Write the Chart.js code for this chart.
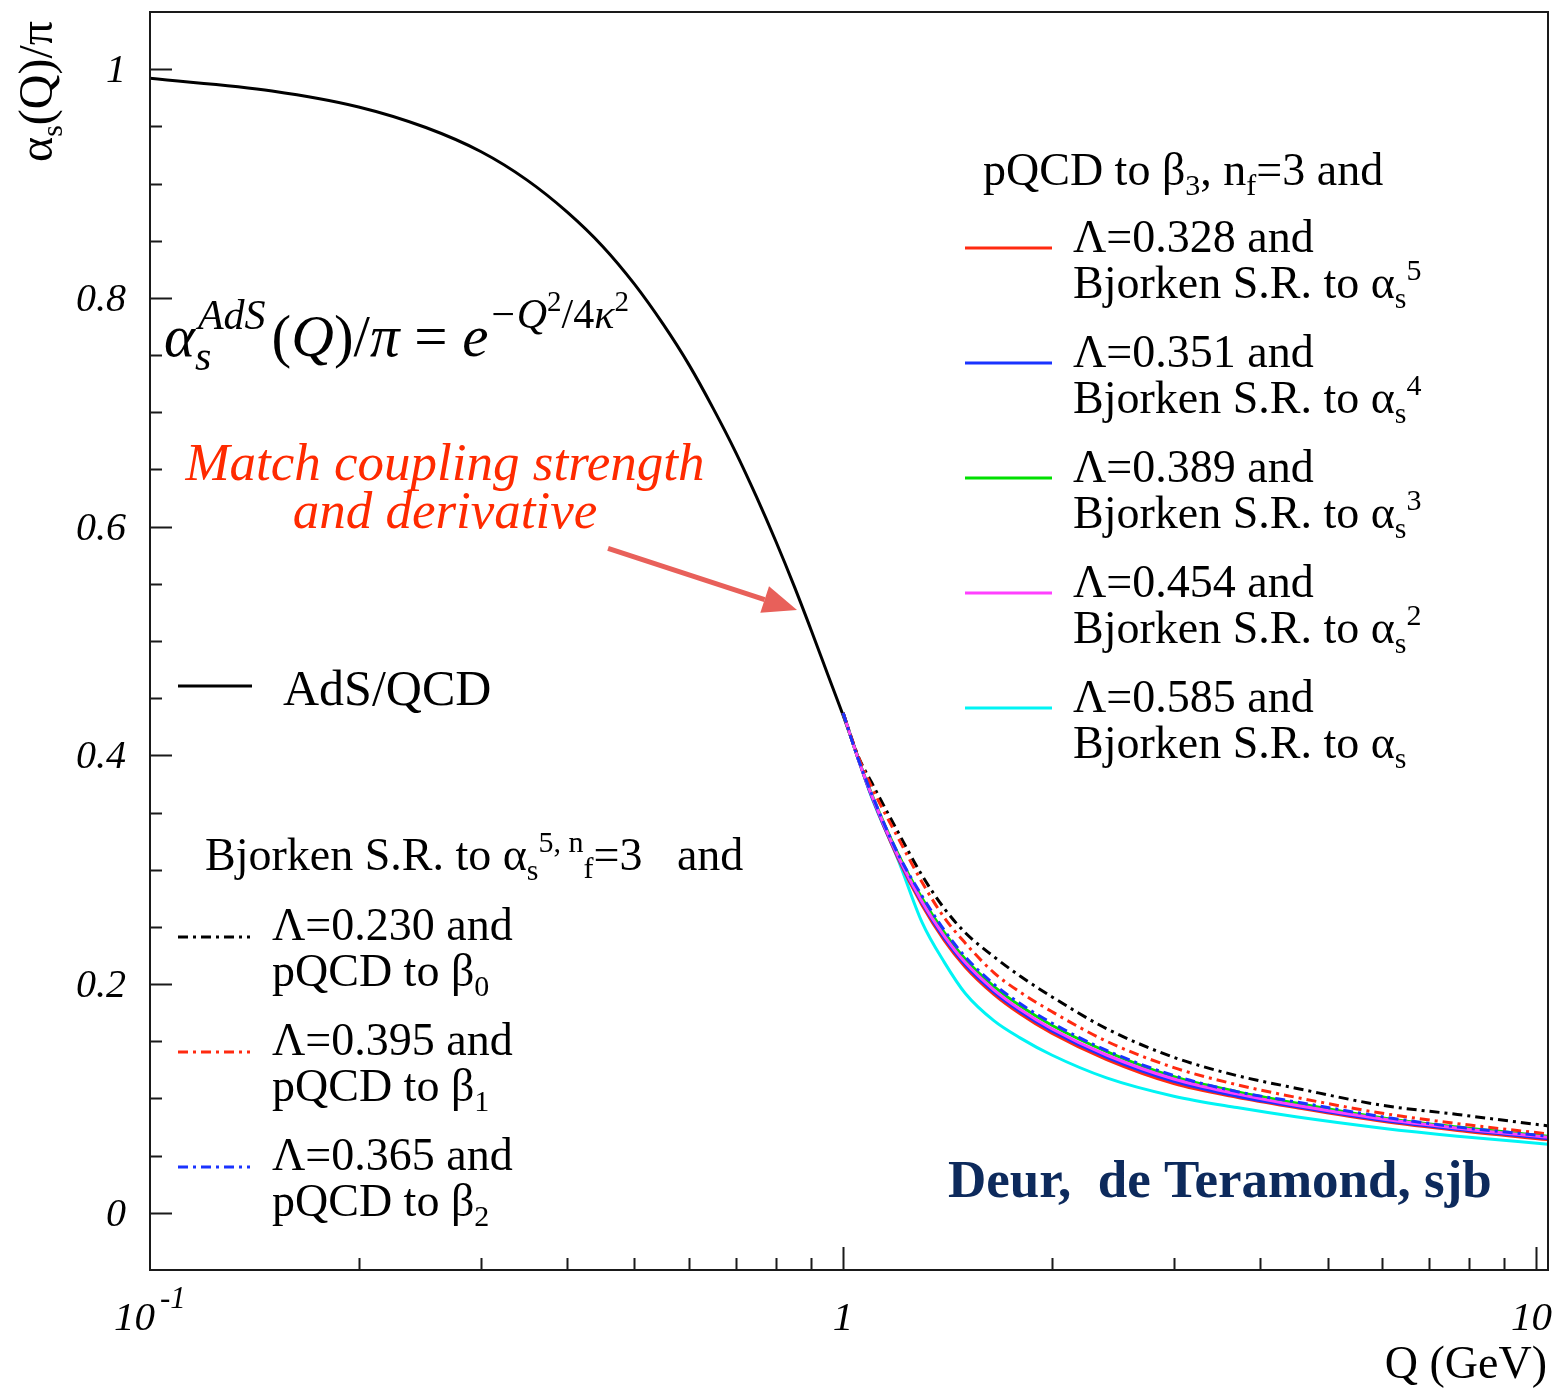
<!DOCTYPE html>
<html>
<head>
<meta charset="utf-8">
<script src="https://cdn.jsdelivr.net/npm/chart.js@4.4.1/dist/chart.umd.min.js"></script>
<style>
  html, body { margin: 0; padding: 0; background: #fff; }
</style>
</head>
<body>
<canvas id="alphaChart" width="1561" height="1388"></canvas>
<script>
// --- AdS/QCD coupling, alpha_s/pi vs Q (GeV) ---
const adsQ = [0.1, 0.15, 0.2, 0.25, 0.3, 0.35, 0.4, 0.45, 0.5, 0.55, 0.6, 0.65, 0.7, 0.75, 0.8, 0.85, 0.9, 0.95, 1.0, 1.05];
const adsAlpha = [0.992, 0.981, 0.967, 0.949, 0.928, 0.903, 0.875, 0.845, 0.812, 0.777, 0.741, 0.703, 0.665, 0.626, 0.587, 0.548, 0.509, 0.471, 0.435, 0.399];

// --- pQCD curves, matched at Q ~ 1 GeV ---
const pertQ = [1.0, 1.05, 1.1, 1.2, 1.3, 1.4, 1.5, 1.65, 1.8, 2.0, 2.4, 3.0, 3.7, 4.5, 6.0, 7.7, 10.4];

// Bjorken S.R. to alpha_s^5, pQCD to beta_0 / beta_1 / beta_2
const beta0 = [0.437, 0.400, 0.376, 0.333, 0.295, 0.266, 0.245, 0.224, 0.207, 0.189, 0.161, 0.136, 0.120, 0.109, 0.094, 0.086, 0.076];
const beta1 = [0.437, 0.400, 0.372, 0.328, 0.289, 0.258, 0.236, 0.210, 0.193, 0.176, 0.150, 0.127, 0.112, 0.101, 0.087, 0.078, 0.069];
const beta2 = [0.437, 0.398, 0.366, 0.314, 0.277, 0.247, 0.224, 0.200, 0.183, 0.166, 0.142, 0.120, 0.106, 0.097, 0.084, 0.075, 0.067];

// pQCD to beta_3, Bjorken S.R. to alpha_s^n
const bjAlpha5 = [0.437, 0.398, 0.364, 0.310, 0.269, 0.238, 0.215, 0.191, 0.174, 0.157, 0.134, 0.113, 0.101, 0.092, 0.080, 0.072, 0.064];
const bjAlpha4 = [0.437, 0.398, 0.364, 0.311, 0.271, 0.240, 0.217, 0.193, 0.176, 0.159, 0.136, 0.115, 0.102, 0.093, 0.081, 0.073, 0.065];
const bjAlpha3 = [0.437, 0.398, 0.366, 0.314, 0.275, 0.245, 0.222, 0.198, 0.181, 0.164, 0.141, 0.119, 0.106, 0.096, 0.083, 0.075, 0.067];
const bjAlpha2 = [0.437, 0.398, 0.365, 0.312, 0.272, 0.242, 0.219, 0.195, 0.178, 0.161, 0.138, 0.117, 0.104, 0.094, 0.082, 0.074, 0.066];
const bjAlpha1 = [0.437, 0.398, 0.363, 0.309, 0.254, 0.219, 0.192, 0.168, 0.153, 0.138, 0.118, 0.102, 0.092, 0.084, 0.074, 0.067, 0.060];

// legend labels
const betaLambdas = ['0.230', '0.395', '0.365'];
const betaOrders = ['0', '1', '2'];
const bjLambdas = ['0.328', '0.351', '0.389', '0.454', '0.585'];
const bjPowers = ['5', '4', '3', '2', ''];

// axis ticks
const yTicks = [0, 0.2, 0.4, 0.6, 0.8, 1];
const yTickLabels = ['0', '0.2', '0.4', '0.6', '0.8', '1'];
const xTicks = [0.1, 1, 10];
const xTickLabels = ['10^-1', '1', '10'];

const serif = '"Liberation Serif", "Times New Roman", serif';
const dashDot = [10, 5, 3, 5];

const pts = (qs, vs) => qs.map((q, i) => ({ x: q, y: vs[i] }));

function line(label, qs, vs, color, dash) {
    return {
        label: label,
        data: pts(qs, vs),
        borderColor: color,
        borderWidth: 3,
        borderDash: dash || [],
        pointRadius: 0,
        fill: false,
        cubicInterpolationMode: 'monotone'
    };
}

// index 0 is painted last (on top)
const dsBeta = [
    line('beta2', pertQ, beta2, '#1a33ff', dashDot),
    line('beta1', pertQ, beta1, '#ff2a10', dashDot),
    line('beta0', pertQ, beta0, '#000000', dashDot)
];
const dsBj = [
    line('a2', pertQ, bjAlpha2, '#ff40ff'),
    line('a3', pertQ, bjAlpha3, '#00e000'),
    line('a4', pertQ, bjAlpha4, '#1a33ff'),
    line('a5', pertQ, bjAlpha5, '#ff2a10'),
    line('a1', pertQ, bjAlpha1, '#00f4f4')
];
const dsAds = line('AdS/QCD', adsQ, adsAlpha, '#000000');

// draws text pieces one after another: [text, size, dy, style]
function runs(ctx, x, y, parts) {
    let cx = x;
    for (const p of parts) {
        const [t, size, dy = 0, style = ''] = p;
        ctx.font = `${style} ${size}px ${serif}`;
        ctx.fillText(t, cx, y + dy);
        cx += ctx.measureText(t).width;
    }
    return cx;
}

function sampleLine(ctx, x0, x1, y, ds) {
    ctx.save();
    ctx.strokeStyle = ds.borderColor;
    ctx.lineWidth = 3;
    ctx.setLineDash(ds.borderDash);
    ctx.beginPath();
    ctx.moveTo(x0, y);
    ctx.lineTo(x1, y);
    ctx.stroke();
    ctx.restore();
}

const decorations = {
    id: 'decorations',
    afterDraw(chart) {
        const ctx = chart.ctx;
        const a = chart.chartArea;
        const xs = chart.scales.x, ys = chart.scales.y;
        ctx.save();
        ctx.fillStyle = '#000';
        ctx.textBaseline = 'alphabetic';
        ctx.textAlign = 'left';

        // frame
        ctx.strokeStyle = '#1a1a1a';
        ctx.lineWidth = 2;
        ctx.strokeRect(a.left, a.top, a.right - a.left, a.bottom - a.top);

        // y ticks, pointing inward
        ctx.beginPath();
        for (let k = 0; k <= 20; k++) {
            const py = Math.round(ys.getPixelForValue(k * 0.05)) + 0.5;
            const len = k % 4 === 0 ? 22 : 12;
            ctx.moveTo(a.left, py);
            ctx.lineTo(a.left + len, py);
        }
        // x ticks on the log axis
        for (const dec of [0.1, 1]) {
            for (let m = 2; m <= 10; m++) {
                const px = Math.round(xs.getPixelForValue(dec * m)) + 0.5;
                const len = m === 10 ? 23 : 12;
                ctx.moveTo(px, a.bottom);
                ctx.lineTo(px, a.bottom - len);
            }
        }
        ctx.stroke();

        // y tick labels
        ctx.textAlign = 'right';
        ctx.font = `italic 40px ${serif}`;
        yTicks.forEach((v, i) => {
            ctx.fillText(yTickLabels[i], a.left - 24, ys.getPixelForValue(v) + 13);
        });

        // x tick labels
        xTicks.forEach((v, i) => {
            const px = xs.getPixelForValue(v);
            const [base, exp] = xTickLabels[i].split('^');
            ctx.font = `italic 41px ${serif}`;
            if (exp) {
                ctx.textAlign = 'right';
                ctx.fillText(base, px + 5, 1330);
                ctx.textAlign = 'left';
                ctx.font = `italic 31px ${serif}`;
                ctx.fillText(exp, px + 10, 1308);
            } else if (i === xTicks.length - 1) {
                ctx.textAlign = 'right';
                ctx.fillText(base, 1552, 1330);
            } else {
                ctx.textAlign = 'center';
                ctx.fillText(base, px, 1330);
            }
        });

        // axis titles
        ctx.textAlign = 'right';
        ctx.font = `46px ${serif}`;
        ctx.fillText('Q (GeV)', 1547, 1378);
        ctx.textAlign = 'left';
        ctx.save();
        ctx.translate(52, 162);
        ctx.rotate(-Math.PI / 2);
        runs(ctx, 0, 0, [['α', 48], ['s', 30, 10], ['(Q)/π', 48]]);
        ctx.restore();

        // formula of the AdS curve
        ctx.font = `italic 59px ${serif}`;
        ctx.fillText('α', 164, 356);
        let fx = 164 + ctx.measureText('α').width;
        ctx.font = `italic 42px ${serif}`;
        ctx.fillText('AdS', fx + 3, 329);
        ctx.fillText('s', fx, 370);
        fx += ctx.measureText('AdS').width + 9;
        runs(ctx, fx, 356, [
            ['(', 59], ['Q', 59, 0, 'italic'], [')/', 59], ['π', 59, 0, 'italic'], [' = ', 59],
            ['e', 59, 0, 'italic'], ['−Q', 42, -28, 'italic'], ['2', 29, -45], ['/4', 42, -28],
            ['κ', 42, -28, 'italic'], ['2', 29, -45]
        ]);

        // right legend: pQCD to beta_3
        runs(ctx, 983, 185, [['pQCD to β', 46], ['3', 30, 10], [', n', 46], ['f', 30, 10], ['=3 and', 46]]);
        const bjLegend = [dsBj[3], dsBj[2], dsBj[1], dsBj[0], dsBj[4]];
        bjLegend.forEach((ds, i) => {
            const y0 = 252 + i * 115;
            sampleLine(ctx, 965, 1052, y0 - 4, ds);
            runs(ctx, 1073, y0, [[`Λ=${bjLambdas[i]} and`, 46]]);
            runs(ctx, 1073, y0 + 46, [['Bjorken S.R. to α', 46], ['s', 30, 10], [bjPowers[i], 30, -18]]);
        });

        // left legend: AdS/QCD
        sampleLine(ctx, 178, 252, 686, dsAds);
        runs(ctx, 283, 705, [['AdS/QCD', 50]]);

        // left legend: Bjorken S.R. to alpha_s^5
        runs(ctx, 205, 870, [['Bjorken S.R. to α', 46], ['s', 30, 10], ['5, n', 30, -18], ['f', 30, 8], ['=3   and', 46]]);
        const betaLegend = [dsBeta[2], dsBeta[1], dsBeta[0]];
        betaLegend.forEach((ds, i) => {
            const y0 = 940 + i * 115;
            sampleLine(ctx, 178, 250, y0 - 3, ds);
            runs(ctx, 272, y0, [[`Λ=${betaLambdas[i]} and`, 46]]);
            runs(ctx, 272, y0 + 46, [['pQCD to β', 46], [betaOrders[i], 30, 10]]);
        });

        // annotation
        ctx.fillStyle = '#ff2a00';
        ctx.textAlign = 'center';
        ctx.font = `italic 53px ${serif}`;
        ctx.fillText('Match coupling strength', 445, 480);
        ctx.fillText('and derivative', 445, 528);

        // arrow towards the matching point
        const x0 = xs.getPixelForValue(0.458), y0 = ys.getPixelForValue(0.581);
        const x1 = xs.getPixelForValue(0.858), y1 = ys.getPixelForValue(0.527);
        const ang = Math.atan2(y1 - y0, x1 - x0);
        const head = 34, half = 14;
        const bx = x1 - head * Math.cos(ang), by = y1 - head * Math.sin(ang);
        ctx.strokeStyle = '#e8605a';
        ctx.fillStyle = '#e8605a';
        ctx.lineWidth = 5;
        ctx.beginPath();
        ctx.moveTo(x0, y0);
        ctx.lineTo(bx, by);
        ctx.stroke();
        ctx.beginPath();
        ctx.moveTo(x1, y1);
        ctx.lineTo(bx + half * Math.sin(ang), by - half * Math.cos(ang));
        ctx.lineTo(bx - half * Math.sin(ang), by + half * Math.cos(ang));
        ctx.closePath();
        ctx.fill();

        // authors
        ctx.fillStyle = '#0d2a5c';
        ctx.textAlign = 'left';
        ctx.font = `bold 53px ${serif}`;
        ctx.fillText('Deur,  de Teramond, sjb', 948, 1197);

        ctx.restore();
    }
};

const chart = new Chart(document.getElementById('alphaChart').getContext('2d'), {
    type: 'line',
    data: { datasets: [...dsBeta, ...dsBj, dsAds] },
    options: {
        responsive: false,
        animation: false,
        layout: { padding: { left: 150, right: 13, top: 12, bottom: 118 } },
        plugins: { legend: { display: false }, tooltip: { enabled: false } },
        scales: {
            x: { type: 'logarithmic', min: 0.1, max: 10.4, display: false },
            y: { type: 'linear', min: -0.05, max: 1.05, display: false }
        }
    },
    plugins: [decorations]
});
</script>
</body>
</html>
